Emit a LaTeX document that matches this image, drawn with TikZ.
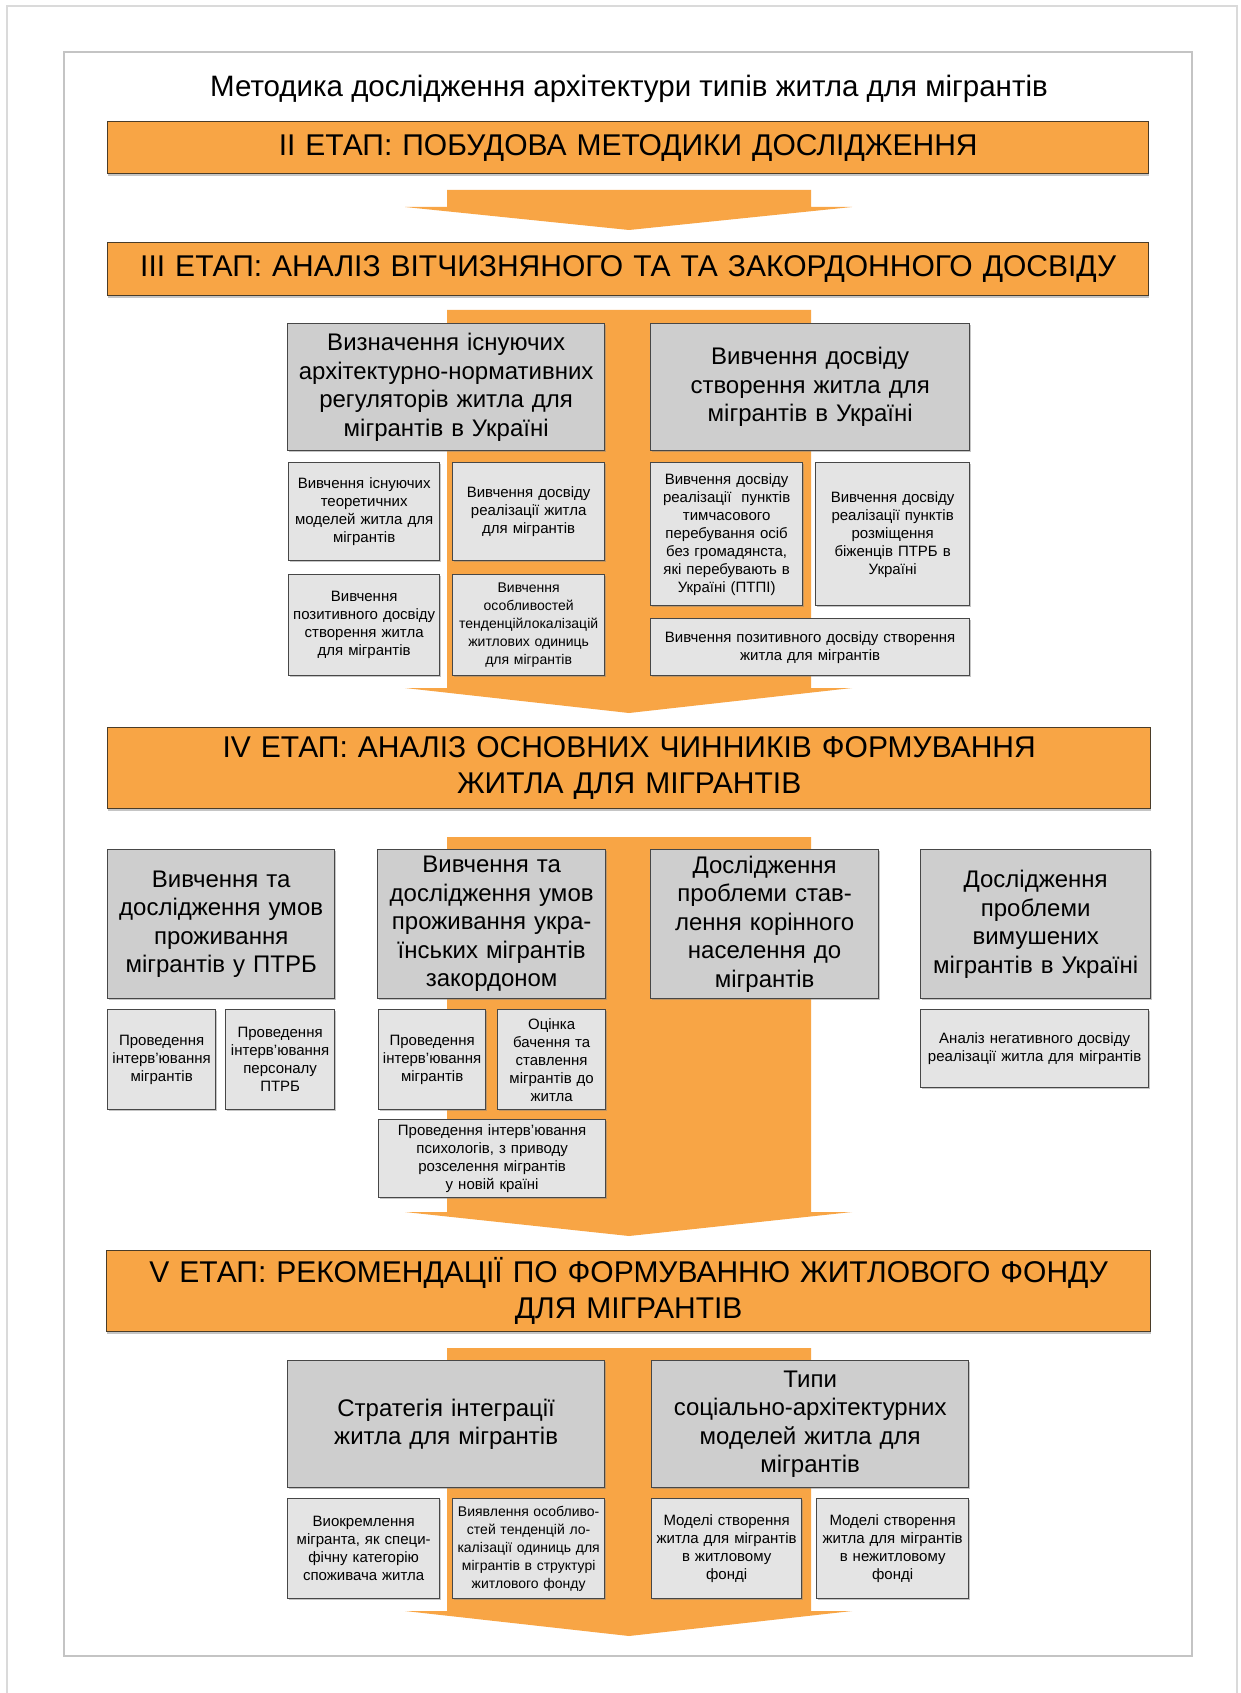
\documentclass[tikz,border=0pt]{standalone}
\usepackage{fontspec}
\setmainfont{Liberation Sans}
\usetikzlibrary{shadows,calc}
\definecolor{org}{HTML}{F8A545}
\definecolor{bardk}{HTML}{4A3C28}
\definecolor{gbig}{HTML}{CECECE}
\definecolor{gsm}{HTML}{E4E4E4}
\definecolor{gdk}{HTML}{474747}
\definecolor{frin}{HTML}{C4C4C4}
\definecolor{frout}{HTML}{DADADA}
\newcommand\bx[7]{%
  \pgfmathsetmacro\myBW{#5-#3}\pgfmathsetmacro\myBH{#6-#4}\pgfmathsetmacro\myTW{#5-#3-4}%
  \node[#1, anchor=north west, minimum width=\myBW pt, minimum height=\myBH pt, text width=\myTW pt] (#2) at (#3,#4) {#7};}
\newcommand\blockarrow[4]{%
  \coordinate (#1-top) at (629,#2);
  \coordinate (#1-tip) at (629,#4);
  \fill[org] (447,#2) -- (811,#2) -- (811,#3) -- (852,#3) -- (#1-tip) -- (405,#3) -- (447,#3) -- cycle;}
\begin{document}
\begin{tikzpicture}[x=1pt,y=-1pt,
  bar/.style={fill=org, draw=bardk, line width=1.3, inner sep=0, align=center,
    drop shadow={shadow xshift=0pt, shadow yshift=-2pt, opacity=0.45},
    font=\fontsize{30}{36}\selectfont},
  bigbox/.style={fill=gbig, draw=gdk, line width=1.3, inner sep=0, align=center,
    drop shadow={shadow xshift=1.5pt, shadow yshift=-1.5pt, opacity=0.45},
    font=\fontsize{24}{28.5}\selectfont},
  smallbox/.style={fill=gsm, draw=gdk, line width=1.3, inner sep=0, align=center,
    drop shadow={shadow xshift=1.5pt, shadow yshift=-1.5pt, opacity=0.45},
    font=\fontsize{15}{18}\selectfont},
  tightbox/.style={smallbox, font=\fontsize{14}{18}\selectfont}]
\useasboundingbox (0,0) rectangle (1240,1693);
\fill[white] (0,0) rectangle (1240,1693);
\draw[frout, line width=1.5] (7,1693) -- (7,6) -- (1237,6) -- (1237,1693);
\draw[frin, line width=2] (64,52) rectangle (1192,1656);

\node[font=\fontsize{29.5}{34}\selectfont] (title) at (629,89) {Методика дослідження архітектури типів житла для мігрантів};

% block arrows
\blockarrow{a1}{190}{207}{230}
\blockarrow{a2}{310}{688}{713}
\blockarrow{a3}{837}{1212}{1236}
\blockarrow{a4}{1348}{1611}{1636}

% bars
\bx{bar}{b2}{107}{121}{1148}{173}{II ЕТАП: ПОБУДОВА МЕТОДИКИ ДОСЛІДЖЕННЯ}
\bx{bar}{b3}{107}{242}{1148}{295}{III ЕТАП: АНАЛІЗ ВІТЧИЗНЯНОГО ТА ТА ЗАКОРДОННОГО ДОСВІДУ}
\bx{bar}{b4}{107}{727}{1150}{808}{IV ЕТАП: АНАЛІЗ ОСНОВНИХ ЧИННИКІВ ФОРМУВАННЯ\\ЖИТЛА ДЛЯ МІГРАНТІВ}
\bx{bar}{b5}{106}{1250}{1150}{1331}{V ЕТАП: РЕКОМЕНДАЦІЇ ПО ФОРМУВАННЮ ЖИТЛОВОГО ФОНДУ\\ДЛЯ МІГРАНТІВ}

% section III
\bx{bigbox}{s3l}{287}{323}{604}{450}{Визначення існуючих\\архітектурно-нормативних\\регуляторів житла для\\мігрантів в Україні}
\bx{bigbox}{s3r}{650}{323}{969}{450}{Вивчення досвіду\\створення житла для\\мігрантів в Україні}
\bx{smallbox}{s3l1}{288}{462}{439}{560}{Вивчення існуючих\\теоретичних\\моделей житла для\\мігрантів}
\bx{smallbox}{s3l2}{288}{574}{439}{675}{Вивчення\\позитивного досвіду\\створення житла\\для мігрантів}
\bx{smallbox}{s3m1}{452}{462}{604}{560}{Вивчення досвіду\\реалізації житла\\для мігрантів}
\bx{tightbox}{s3m2}{452}{574}{604}{675}{Вивчення\\особливостей\\тенденційлокалізацій\\житлових одиниць\\для мігрантів}
\bx{smallbox}{s3r1}{650}{462}{802}{605}{Вивчення досвіду\\реалізації\ \ пунктів\\тимчасового\\перебування осіб\\без громадянста,\\які перебувають в\\Україні (ПТПІ)}
\bx{smallbox}{s3r2}{815}{462}{969}{605}{Вивчення досвіду\\реалізації пунктів\\розміщення\\біженців ПТРБ в\\Україні}
\bx{smallbox}{s3r3}{650}{618}{969}{675}{Вивчення позитивного досвіду створення\\житла для мігрантів}

% section IV
\bx{bigbox}{s4a}{107}{849}{334}{998}{Вивчення та\\дослідження умов\\проживання\\мігрантів у ПТРБ}
\bx{bigbox}{s4b}{377}{849}{605}{998}{Вивчення та\\дослідження умов\\проживання укра-\\їнських мігрантів\\закордоном}
\bx{bigbox}{s4c}{650}{849}{878}{998}{Дослідження\\проблеми став-\\лення корінного\\населення до\\мігрантів}
\bx{bigbox}{s4d}{920}{849}{1150}{998}{Дослідження\\проблеми\\вимушених\\мігрантів в Україні}
\bx{smallbox}{s4a1}{107}{1009}{215}{1109}{Проведення\\інтерв’ювання\\мігрантів}
\bx{smallbox}{s4a2}{225}{1009}{334}{1109}{Проведення\\інтерв’ювання\\персоналу\\ПТРБ}
\bx{smallbox}{s4b1}{378}{1009}{485}{1109}{Проведення\\інтерв’ювання\\мігрантів}
\bx{smallbox}{s4b2}{497}{1009}{605}{1109}{Оцінка\\бачення та\\ставлення\\мігрантів до\\житла}
\bx{smallbox}{s4b3}{378}{1119}{605}{1197}{Проведення інтерв’ювання\\психологів, з приводу\\розселення мігрантів\\у новій країні}
\bx{smallbox}{s4d1}{920}{1009}{1148}{1087}{Аналіз негативного досвіду\\реалізації житла для мігрантів}

% section V
\bx{bigbox}{s5l}{287}{1360}{604}{1487}{Стратегія інтеграції\\житла для мігрантів}
\bx{bigbox}{s5r}{651}{1360}{968}{1487}{Типи\\соціально-архітектурних\\моделей житла для\\мігрантів}
\bx{smallbox}{s5a}{287}{1498}{439}{1598}{Виокремлення\\мігранта, як специ-\\фічну категорію\\споживача житла}
\bx{tightbox}{s5b}{452}{1498}{604}{1598}{Виявлення особливо-\\стей тенденцій ло-\\калізації одиниць для\\мігрантів в структурі\\житлового фонду}
\bx{smallbox}{s5c}{651}{1498}{801}{1598}{Моделі створення\\житла для мігрантів\\в житловому\\фонді}
\bx{smallbox}{s5d}{816}{1498}{968}{1598}{Моделі створення\\житла для мігрантів\\в нежитловому\\фонді}
\end{tikzpicture}
\end{document}
